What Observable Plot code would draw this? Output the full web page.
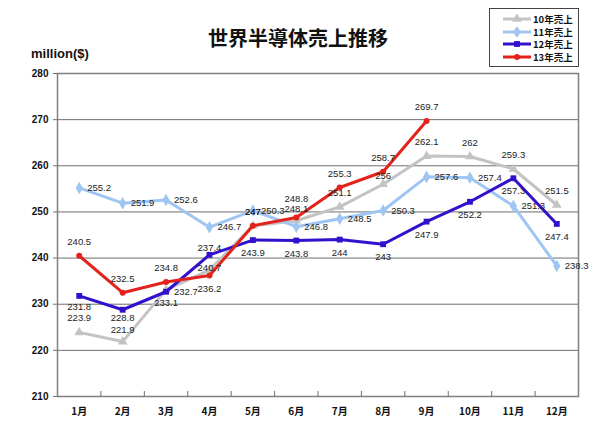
<!DOCTYPE html>
<html>
<head>
<meta charset="utf-8">
<script src="https://cdn.jsdelivr.net/npm/d3@7"></script>
<script src="https://cdn.jsdelivr.net/npm/@observablehq/plot@0.6"></script>
<style>
  html, body { margin: 0; padding: 0; background: #fff; }
  #wrap { position: relative; width: 600px; height: 433px; overflow: hidden; }
  #title { position: absolute; left: 0; width: 596px; top: 26px; text-align: center;
    font: bold 20px "Noto Sans CJK JP", sans-serif; color: #111; line-height: 24px; }
  #unit { position: absolute; left: 31px; top: 46px; font: bold 13px "Liberation Sans", Arial, sans-serif; color: #111; }
  #legend { position: absolute; left: 489px; top: 8px; width: 90px; height: 59px; border: 1px solid #444;
    background: #fff; box-sizing: border-box; padding-top: 4px; }
  .item { display: flex; align-items: center; height: 12.5px; margin-left: 12px; }
  .item span { font: bold 9.5px "Noto Sans CJK JP", sans-serif; color: #111; margin-left: 1px; }
  svg { display: block; }
</style>
</head>
<body>
<div id="wrap">
  <div id="chart"></div>
  <div id="title"></div>
  <div id="unit"></div>
  <div id="legend"></div>
</div>
<script>
// ---- data ----
const months = ["1月","2月","3月","4月","5月","6月","7月","8月","9月","10月","11月","12月"];
const seriesNames = ["10年売上","11年売上","12年売上","13年売上"];
const sales10 = [223.9,221.9,233.1,237.4,247,248.1,251.1,256,262.1,262,259.3,251.5];
const sales11 = [255.2,251.9,252.6,246.7,250.3,246.8,248.5,250.3,257.6,257.4,251.3,238.3];
const sales12 = [231.8,228.8,232.7,240.7,243.9,243.8,244,243,247.9,252.2,257.3,247.4];
const sales13 = [240.5,232.5,234.8,236.2,247,248.8,255.3,258.7,269.7];
const yTicks = [210,220,230,240,250,260,270,280];
const titleText = "世界半導体売上推移";
const unitText = "million($)";

// ---- styles (not data) ----
const colors = ["#c3c3c3","#9fc5f2","#3311cc","#e3231b"];
const symbols = ["triangle","diamond","square","circle"];
const symR = [3.6,3.8,3.3,3.0];
// label placement codes
const labelPos = [
  ["t","u","b","t3","t","u","t","s","t","t","t","t"],
  ["r","r","r","r","r","r","r","r","r","r","r","r"],
  ["b2","b3","r","b","b","b","b","b","b","b","b","b"],
  ["t","t","t","b","t","t2","t","t","t"]
];
const posStyle = {
  t:  {dx: 0, dy: -14, textAnchor: "middle"},
  t2: {dx: 0, dy: -19, textAnchor: "middle"},
  t3: {dx: 0, dy: -22, textAnchor: "middle"},
  u:  {dx: 0, dy: -12, textAnchor: "middle"},
  s:  {dx: 0, dy: -8, textAnchor: "middle"},
  b:  {dx: 0, dy: 13, textAnchor: "middle"},
  b2: {dx: 0, dy: 11, textAnchor: "middle"},
  b3: {dx: 0, dy: 8, textAnchor: "middle"},
  r:  {dx: 8, dy: 0, textAnchor: "start"}
};

const allSales = [sales10, sales11, sales12, sales13];
const rows = [];
allSales.forEach((arr, s) => arr.forEach((v, i) => rows.push({
  series: seriesNames[s], s, m: i + 1, month: months[i], value: v, pos: labelPos[s][i]
})));
const boundaries = months.slice(1).map((_, i) => i + 1.5);

const W = 600, H = 433, mt = 73, mb = 37, ml = 57, mr = 22;
const marks = [
  Plot.ruleY(yTicks.slice(1, -1), {stroke: "#6e6e6e", strokeWidth: 1}),
  Plot.frame({stroke: "#808080", strokeWidth: 1.5}),
  Plot.tickX(boundaries, {x: d => d, stroke: "#707070", strokeWidth: 1, insetTop: H - mt - mb - 5}),
  Plot.axisY({ticks: yTicks, tickSize: 4, tickPadding: 5, tickFormat: d => String(d),
    fontWeight: "bold", fontSize: 10, stroke: "#707070", fill: "#111", label: null}),
  Plot.axisX({ticks: months.map((_, i) => i + 1), tickSize: 0, tickPadding: 11,
    tickFormat: d => months[d - 1], fontWeight: "bold", fontSize: 10, fill: "#111", label: null,
    fontFamily: "Noto Sans CJK JP, sans-serif"})
];
seriesNames.forEach((name, s) => {
  const data = rows.filter(r => r.s === s);
  marks.push(Plot.line(data, {x: "m", y: "value", stroke: colors[s], strokeWidth: 3, strokeLinejoin: "round"}));
  marks.push(Plot.dot(data, {x: "m", y: "value", symbol: () => symbols[s], r: symR[s], fill: colors[s], stroke: "none"}));
});
Object.entries(posStyle).forEach(([code, st]) => {
  marks.push(Plot.text(rows.filter(r => r.pos === code), {
    x: "m", y: "value", text: d => String(d.value), dx: st.dx, dy: st.dy, textAnchor: st.textAnchor,
    fontSize: 9.5, fill: "#222", fontFamily: "Liberation Sans, Arial, sans-serif"
  }));
});

const chart = Plot.plot({
  width: W, height: H,
  marginTop: mt, marginBottom: mb, marginLeft: ml, marginRight: mr,
  style: {fontFamily: "Liberation Sans, Arial, sans-serif", background: "#fff", overflow: "visible"},
  x: {type: "linear", domain: [0.5, 12.5], axis: null},
  y: {domain: [210, 280], axis: null},
  symbol: {type: "identity"},
  marks
});
document.getElementById("chart").append(chart);
document.getElementById("title").textContent = titleText;
document.getElementById("unit").textContent = unitText;

// legend
const lg = document.getElementById("legend");
seriesNames.forEach((name, s) => {
  const item = document.createElement("div");
  item.className = "item";
  const sw = d3.create("svg").attr("width", 30).attr("height", 10);
  sw.append("line").attr("x1", 1).attr("x2", 29).attr("y1", 5).attr("y2", 5)
    .attr("stroke", colors[s]).attr("stroke-width", 3);
  sw.append("path").attr("transform", "translate(15,5)")
    .attr("d", d3.symbol(d3["symbol" + symbols[s][0].toUpperCase() + symbols[s].slice(1)], Math.PI * symR[s] * symR[s])())
    .attr("fill", colors[s]);
  item.append(sw.node());
  const t = document.createElement("span");
  t.textContent = name;
  item.append(t);
  lg.append(item);
});
</script>
</body>
</html>
